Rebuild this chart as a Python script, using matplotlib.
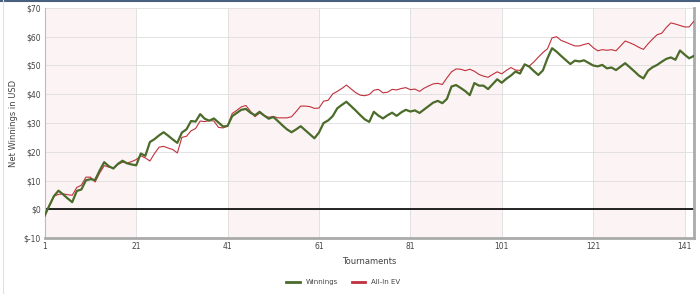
import numpy as np
import matplotlib
matplotlib.use("Agg")
import matplotlib.pyplot as plt
from matplotlib.lines import Line2D

# net winnings per tournament
winnings = [
    -2.0, 1.3, 4.6, 6.5, 5.2, 3.8, 2.5, 6.4, 6.9, 10.1,
    10.5, 10.2, 13.5, 16.4, 15.0, 14.2, 15.8, 16.9, 16.0, 15.6,
    15.3, 19.4, 18.6, 23.4, 24.4, 25.7, 26.8, 25.6, 24.3, 23.1,
    26.7, 27.8, 30.7, 30.5, 33.1, 31.5, 30.8, 31.6, 30.2, 28.8,
    29.0, 32.4, 33.5, 34.6, 34.9, 33.6, 32.7, 33.9, 32.6, 31.5,
    32.1, 30.7, 29.2, 27.8, 26.8, 27.8, 28.9, 27.5, 26.1, 24.7,
    26.7, 30.0, 30.9, 32.4, 35.1, 36.3, 37.4, 35.9, 34.4, 32.8,
    31.3, 30.4, 33.9, 32.6, 31.6, 32.7, 33.6, 32.5, 33.7, 34.6,
    34.0, 34.4, 33.5, 34.7, 35.9, 37.1, 37.7, 36.9, 38.4, 42.7,
    43.2, 42.2, 41.1, 39.7, 43.9, 43.0, 43.0, 41.8, 43.5, 45.2,
    44.0, 45.4, 46.5, 47.9, 47.2, 50.4, 49.6, 48.1, 46.7, 48.3,
    52.5, 56.0, 54.8, 53.3, 51.9, 50.5, 51.7, 51.4, 51.8, 50.9,
    50.0, 49.7, 50.2, 49.0, 49.3, 48.4, 49.6, 50.8, 49.4, 48.0,
    46.5, 45.5, 48.2, 49.4, 50.2, 51.3, 52.3, 52.8, 52.0, 55.2,
    53.8, 52.5, 53.3,
]
allin_ev = [
    -2.5, 1.5, 4.6, 5.2, 5.4, 5.1, 4.9, 7.6, 8.4, 11.2,
    11.2, 9.5, 12.6, 15.2, 14.7, 14.4, 15.6, 16.4, 16.1, 16.6,
    17.3, 18.6, 17.9, 16.8, 19.4, 21.6, 21.9, 21.3, 20.8, 19.6,
    25.0, 25.4, 27.3, 28.1, 30.7, 30.5, 30.9, 30.7, 28.5, 28.3,
    28.9, 33.3, 34.4, 35.6, 36.1, 34.1, 32.2, 33.5, 32.6, 32.0,
    32.3, 31.8, 31.8, 31.8, 32.2, 34.0, 35.9, 35.9, 35.7, 35.1,
    35.2, 37.6, 37.9, 40.1, 41.0, 42.0, 43.2, 41.9, 40.6, 39.7,
    39.5, 39.9, 41.4, 41.7, 40.5, 40.7, 41.7, 41.5, 42.0, 42.3,
    41.6, 41.8, 41.0, 42.1, 42.9, 43.6, 43.8, 43.4, 45.7, 47.8,
    48.8, 48.7, 48.2, 48.7, 48.0, 46.9, 46.3, 45.9, 46.9, 47.8,
    47.1, 48.3, 49.3, 48.4, 48.3, 50.2, 49.8, 51.2, 52.9, 54.5,
    55.8, 59.6, 60.0, 58.7, 58.1, 57.4, 56.8, 56.8, 57.3, 57.7,
    56.2, 55.1, 55.5, 55.3, 55.5, 55.1, 56.8, 58.5, 57.9, 57.2,
    56.3, 55.6, 57.5, 59.2, 60.7, 61.2, 63.2, 64.8, 64.4, 63.9,
    63.4, 63.4, 65.3,
]
tournaments = np.arange(1, len(winnings) + 1)
x_ticks = [1, 21, 41, 61, 81, 101, 121, 141]
y_ticks = [-10, 0, 10, 20, 30, 40, 50, 60, 70]

GREEN = "#4b6b2a"
RED = "#c0303c"
BAND = "#fcf4f4"
TXT = "#444444"

fig = plt.figure(figsize=(7.0, 2.94), dpi=100)
ax = fig.add_axes([0.064, 0.19, 0.927, 0.783])

# alternating shaded bands every 20 tournaments
for i, lo in enumerate(x_ticks):
    hi = x_ticks[i + 1] if i + 1 < len(x_ticks) else tournaments[-1]
    if i % 2 == 0:
        ax.axvspan(lo, hi, color=BAND, lw=0, zorder=0)

ax.set_xlim(1, tournaments[-1])
ax.set_ylim(-10, 70)
ax.set_xticks(x_ticks)
ax.set_yticks(y_ticks)
ax.set_yticklabels([f"${v}" for v in y_ticks])
ax.grid(True, color="#dddddd", lw=0.6, zorder=1)
ax.axhline(0, color="black", lw=1.2, zorder=2)

ax.plot(tournaments, allin_ev, color=RED, lw=0.8, zorder=3)
ax.plot(tournaments, winnings, color=GREEN, lw=1.6, zorder=4)

ax.tick_params(axis="both", length=0, labelsize=5.5, colors=TXT, pad=3)
ax.set_xlabel("Tournaments", fontsize=6, color=TXT, labelpad=4)
ax.set_ylabel("Net Winnings in USD", fontsize=6, color=TXT, labelpad=4)

for side in ["top"]:
    ax.spines[side].set_visible(False)
ax.spines["left"].set_color("#bbbbbb")
ax.spines["left"].set_linewidth(0.8)
ax.spines["bottom"].set_color("#aaaaaa")
ax.spines["bottom"].set_linewidth(2.0)
ax.spines["right"].set_color("#aaaaaa")
ax.spines["right"].set_linewidth(2.0)

handles = [Line2D([], [], color=GREEN, lw=2.0), Line2D([], [], color=RED, lw=2.0)]
fig.legend(handles, ["Winnings", "All-In EV"], loc="center", bbox_to_anchor=(0.49, 0.04),
           ncol=2, frameon=False, fontsize=5, handlelength=2.0, columnspacing=2.0,
           labelcolor=TXT)

# dark frame line along the top edge and light one at the left
fig.add_artist(Line2D([0, 1], [0.998, 0.998], color="#4a5f80", lw=1.5, transform=fig.transFigure))
fig.add_artist(Line2D([0.004, 0.004], [0, 1], color="#e0e0e0", lw=0.8, transform=fig.transFigure))

fig.savefig("out.png", dpi=100)
